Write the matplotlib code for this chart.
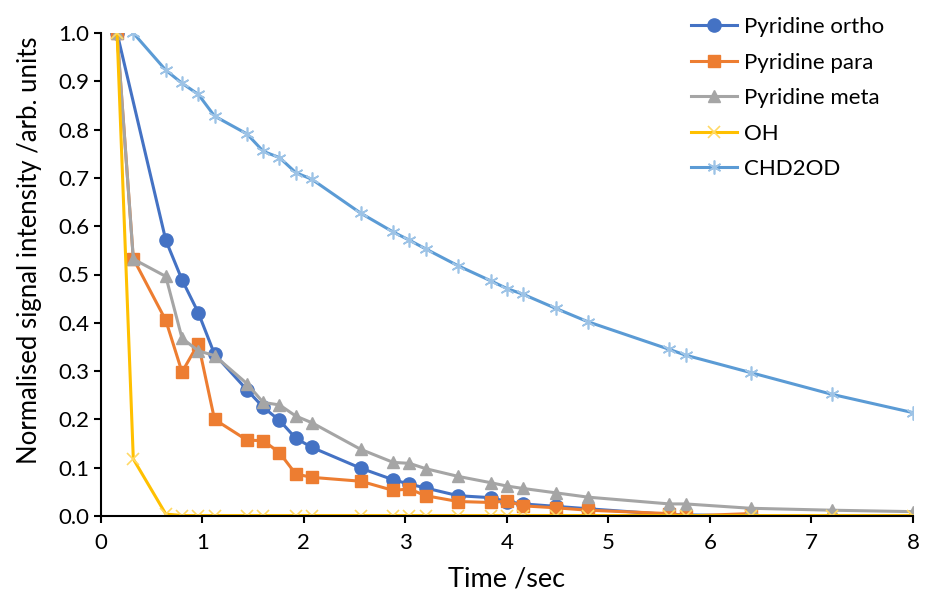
import numpy as np
import matplotlib
matplotlib.use('Agg')
import matplotlib.pyplot as plt

plt.rcParams['font.family'] = ['Lato', 'DejaVu Sans']

# time axis shared by all series (sec)
t = [0.16, 0.32, 0.64, 0.80, 0.96, 1.12, 1.44, 1.60, 1.76, 1.92, 2.08, 2.56, 2.88,
     3.04, 3.20, 3.52, 3.84, 4.00, 4.16, 4.48, 4.80, 5.60, 5.76, 6.40, 7.20, 8.00]

nan = np.nan
ortho = [1.0, nan, 0.571, 0.489, 0.421, 0.335, 0.261, 0.225, 0.198, 0.161, 0.142, 0.099, 0.075,
         0.066, 0.058, 0.042, 0.038, 0.030, 0.025, 0.020, 0.015, 0.003, nan, 0.0, nan, nan]
para = [1.0, 0.533, 0.405, 0.298, 0.357, 0.200, 0.157, 0.156, 0.131, 0.087, 0.080, 0.072, 0.053,
        0.056, 0.042, 0.030, 0.028, 0.031, 0.021, 0.017, 0.012, 0.005, 0.0, 0.005, nan, nan]
meta = [1.0, 0.532, 0.496, 0.368, 0.342, 0.332, 0.274, 0.235, 0.230, 0.207, 0.193, 0.138, 0.111,
        0.109, 0.098, 0.082, 0.069, 0.062, 0.057, 0.048, 0.039, 0.025, 0.025, 0.016, 0.012, 0.009]
oh = [1.0, 0.118, 0.004, 0.001, 0.001, 0.001, 0.001, 0.001, nan, 0.001, 0.001, 0.001, 0.001,
      0.001, 0.001, 0.001, 0.001, 0.001, 0.001, 0.001, 0.001, 0.001, 0.001, 0.001, 0.001, 0.001]
chd2od = [nan, 1.0, 0.923, 0.896, 0.873, 0.828, 0.791, 0.755, 0.742, 0.711, 0.697, 0.627, 0.588,
          0.571, 0.553, 0.518, 0.487, 0.471, 0.459, 0.430, 0.402, 0.345, 0.333, 0.297, 0.252, 0.214]

labels = ['Pyridine ortho', 'Pyridine para', 'Pyridine meta', 'OH', 'CHD2OD']

fig = plt.figure(figsize=(9.25, 6), dpi=100)
ax = fig.add_axes([0.109, 0.14, 0.878, 0.805])

t = np.array(t)


def draw(y, **kw):
    y = np.array(y, dtype=float)
    m = ~np.isnan(y)
    ax.plot(t[m], y[m], lw=2.2, label=kw.pop('label'), **kw)


draw(ortho, color='#4472C4', marker='o', ms=9.5, label=labels[0])
draw(para, color='#ED7D31', marker='s', ms=8.5, label=labels[1])
draw(meta, color='#A5A5A5', marker='^', ms=8.5, label=labels[2])
draw(oh, color='#FFC000', marker='x', ms=8, mec='#FFD966', mew=1.2, label=labels[3])
draw(chd2od, color='#5B9BD5', marker=(6, 2, 0), ms=10, mec='#9DC3E6', mew=1.2, label=labels[4])

ax.set_xlim(0, 8)
ax.set_ylim(0, 1.0)
ax.set_xticks(range(0, 9))
ax.set_yticks(np.arange(0, 1.01, 0.1))
ax.set_yticklabels(['%.1f' % v for v in np.arange(0, 1.01, 0.1)])
ax.tick_params(labelsize=16, direction='out', length=5, width=1.5, color='black')
ax.tick_params(axis='x', pad=7)
ax.spines['top'].set_visible(False)
ax.spines['right'].set_visible(False)
for s in ('left', 'bottom'):
    ax.spines[s].set_linewidth(1.5)

ax.set_xlabel('Time /sec', fontsize=19.5, labelpad=10)
ax.set_ylabel('Normalised signal intensity /arb. units', fontsize=18.5)
ax.yaxis.set_label_coords(-0.072, 0.55)

ax.legend(loc='upper left', bbox_to_anchor=(0.725, 1.005), bbox_transform=fig.transFigure,
          frameon=False, fontsize=16, labelspacing=0.7, handlelength=2.1,
          handletextpad=0.3)

fig.savefig('out.png', dpi=100)
